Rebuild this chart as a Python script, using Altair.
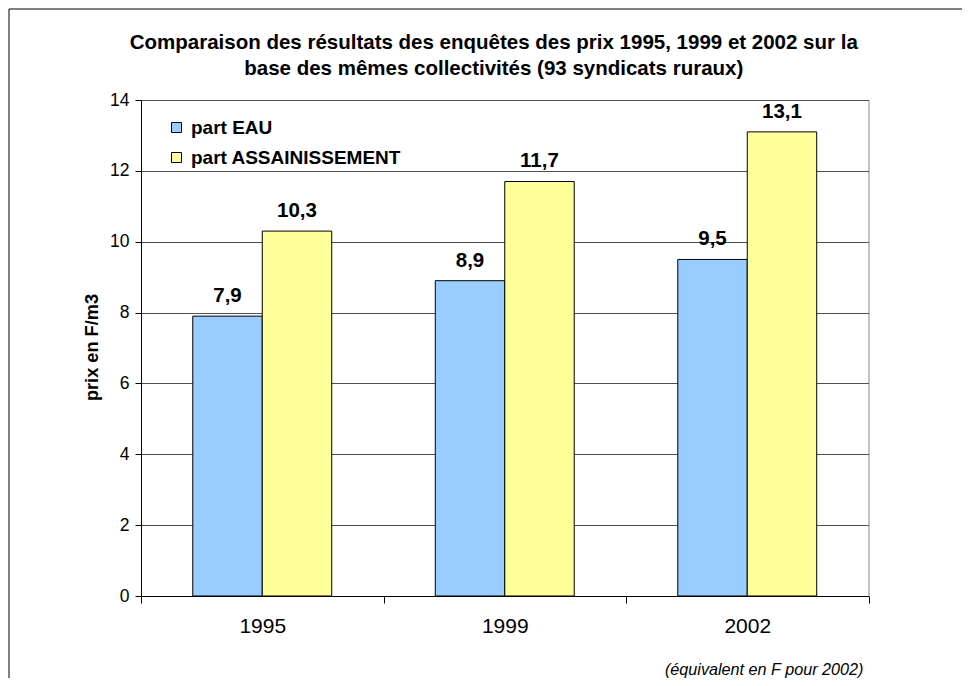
import altair as alt
import pandas as pd

years = ["1995", "1999", "2002"]
series = ["part EAU", "part ASSAINISSEMENT"]
eau = [7.9, 8.9, 9.5]
assain = [10.3, 11.7, 13.1]
colors = ["#99CCFF", "#FFFF99"]
title_lines = [
    "Comparaison des résultats des enquêtes des prix 1995, 1999 et 2002 sur la",
    "base des mêmes collectivités (93 syndicats ruraux)",
]
y_title = "prix en F/m3"
footnote = "(équivalent en F pour 2002)"

rows = []
for i, y in enumerate(years):
    rows.append({"annee": y, "serie": series[0], "valeur": eau[i], "order": 0})
    rows.append({"annee": y, "serie": series[1], "valeur": assain[i], "order": 1})
df = pd.DataFrame(rows)
df["label"] = df["valeur"].map(lambda v: f"{v:.1f}".replace(".", ","))

FONT = "Liberation Sans"
W, H = 727.5, 496

x_enc = alt.X(
    "annee:N",
    sort=years,
    scale=alt.Scale(paddingInner=0, paddingOuter=0),
    axis=alt.Axis(
        title=footnote,
        labelAngle=0,
        labelFont=FONT,
        labelFontSize=21,
        labelColor="#000",
        labelPadding=12,
        tickBand="extent",
        tickSize=7,
        tickColor="#000",
        domainColor="#000",
        titleFont=FONT,
        titleFontSize=16.2,
        titleFontStyle="italic",
        titleFontWeight="normal",
        titleColor="#000",
        titleX=722,
        titleY=78,
        titleAlign="right",
        titleAnchor="end",
        titleBaseline="alphabetic",
        grid=False,
    ),
)
xoff_enc = alt.XOffset(
    "serie:N",
    sort=series,
    scale=alt.Scale(paddingOuter=0.745, paddingInner=0),
)
y_enc = alt.Y(
    "valeur:Q",
    scale=alt.Scale(domain=[0, 14], nice=False),
    axis=alt.Axis(
        title=y_title,
        values=[0, 2, 4, 6, 8, 10, 12, 14],
        labelFont=FONT,
        labelFontSize=17.5,
        labelColor="#000",
        labelPadding=6,
        tickSize=6,
        tickColor="#000",
        domainColor="#000",
        grid=True,
        gridColor="#505050",
        gridWidth=1,
        titleFont=FONT,
        titleFontSize=18.2,
        titleFontWeight="bold",
        titleColor="#000",
        titleAngle=270,
        titleX=-44,
        titleY=247,
        titleAlign="center",
        titleBaseline="alphabetic",
    ),
)

bars = alt.Chart(df).mark_bar(stroke="#000", strokeWidth=1).encode(
    x=x_enc,
    xOffset=xoff_enc,
    y=y_enc,
    color=alt.Color(
        "serie:N",
        sort=series,
        scale=alt.Scale(domain=series, range=colors),
        legend=alt.Legend(
            title=None,
            orient="none",
            legendX=26,
            legendY=18,
            padding=0,
            symbolType="square",
            symbolSize=100,
            symbolStrokeColor="#000",
            symbolStrokeWidth=1,
            symbolOpacity=1,
            labelFont=FONT,
            labelFontSize=19,
            labelFontWeight="bold",
            labelColor="#000",
            labelOffset=5,
            labelLimit=0,
            rowPadding=10,
        ),
    ),
)

texts = alt.Chart(df).mark_text(
    baseline="alphabetic", dy=-14, font=FONT, fontSize=20.5, fontWeight="bold", color="#000"
).encode(
    x=alt.X("annee:N", sort=years),
    xOffset=alt.XOffset("serie:N", sort=series),
    y=alt.Y("valeur:Q"),
    text="label:N",
)

frame = alt.Chart(pd.DataFrame({"k": [0]})).mark_rect(
    fill="transparent", stroke="#000", strokeWidth=1, clip=False
).encode(
    x=alt.value(-132), x2=alt.value(1000), y=alt.value(-91), y2=alt.value(900)
)

chart = (
    alt.layer(frame, bars, texts)
    .properties(
        width=W,
        height=H,
        title=alt.TitleParams(
            text=title_lines,
            font=FONT,
            fontSize=20.5,
            fontWeight="bold",
            color="#000",
            lineHeight=26,
            anchor="middle",
            frame="group",
            baseline="alphabetic",
            offset=-87,
            dx=-11,
        ),
        autosize=alt.AutoSizeParams(type="none"),
        padding={"left": 133, "top": 92, "right": 93, "bottom": 82},
        background="#ffffff",
    )
    .configure_view(stroke="#888888", strokeWidth=1)
)

chart.save("out.html", embed_options={"renderer": "svg", "actions": False})
